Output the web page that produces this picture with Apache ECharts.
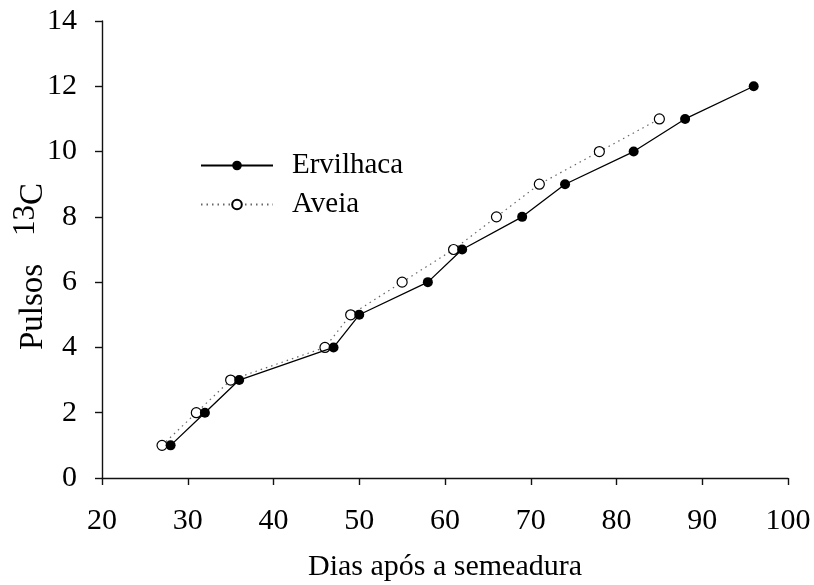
<!DOCTYPE html>
<html>
<head>
<meta charset="utf-8">
<script src="https://cdn.jsdelivr.net/npm/echarts@6/dist/echarts.min.js"></script>
<style>
  html, body { margin: 0; padding: 0; background: #fff; }
  #chart { width: 814px; height: 585px; }
</style>
</head>
<body>
<div id="chart"></div>
<script>
// Days after sowing at which each 13C pulse was applied
const ervilhacaDays = [28, 32, 36, 47, 50, 58, 62, 69, 74, 82, 88, 96];
const ervilhacaPulses = [1, 2, 3, 4, 5, 6, 7, 8, 9, 10, 11, 12];
const aveiaDays = [27, 31, 35, 46, 49, 55, 61, 66, 71, 78, 85];
const aveiaPulses = [1, 2, 3, 4, 5, 6, 7, 8, 9, 10, 11];

const xTicks = { min: 20, max: 100, interval: 10 };
const yTicks = { min: 0, max: 14, interval: 2 };

const FONT = '"Liberation Serif", "Times New Roman", serif';

function pairs(xs, ys) {
  return xs.map((x, i) => [x, ys[i]]);
}

const chart = echarts.init(document.getElementById('chart'), null, { renderer: 'canvas' });

const axisCommon = {
  axisLine: { show: true, lineStyle: { color: '#111', width: 1.4 } },
  axisTick: { show: true, inside: false, length: 7, lineStyle: { color: '#111', width: 1.4 } },
  splitLine: { show: false },
  axisLabel: { color: '#000', fontFamily: FONT, fontSize: 30 }
};

chart.setOption({
  animation: false,
  backgroundColor: '#fff',
  textStyle: { fontFamily: FONT, color: '#000' },
  grid: {
    left: 102, right: 26, top: 21, bottom: 107,
    containLabel: false,
    outerBoundsMode: 'none'
  },
  legend: {
    data: ['Ervilhaca', 'Aveia'],
    orient: 'vertical',
    left: 200,
    top: 151,
    padding: 0,
    itemWidth: 72,
    itemHeight: 12,
    itemGap: 10,
    textStyle: { fontFamily: FONT, fontSize: 29, color: '#000', padding: [0, 0, 0, 14] }
  },
  xAxis: Object.assign({}, axisCommon, {
    type: 'value',
    min: xTicks.min, max: xTicks.max, interval: xTicks.interval,
    axisLabel: Object.assign({}, axisCommon.axisLabel, { margin: 28 }),
    name: 'Dias após a semeadura',
    nameLocation: 'middle',
    nameGap: 74,
    nameMoveOverlap: false,
    nameTextStyle: { fontFamily: FONT, fontSize: 30, color: '#000' }
  }),
  yAxis: Object.assign({}, axisCommon, {
    type: 'value',
    min: yTicks.min, max: yTicks.max, interval: yTicks.interval,
    axisLabel: Object.assign({}, axisCommon.axisLabel, { margin: 25 }),
    name: '{a|Pulsos}{gap|}{s|13}{a|C}',
    nameLocation: 'middle',
    nameRotate: 90,
    nameGap: 52,
    nameMoveOverlap: false,
    nameTextStyle: {
      padding: [0, 34, 0, 0],
      rich: {
        a: { fontFamily: FONT, fontSize: 33, color: '#000', lineHeight: 40, verticalAlign: 'bottom' },
        gap: { width: 28, lineHeight: 40 },
        s: { fontFamily: FONT, fontSize: 31, color: '#000', lineHeight: 40, verticalAlign: 'top' }
      }
    }
  }),
  series: [
    {
      name: 'Aveia',
      type: 'line',
      data: pairs(aveiaDays, aveiaPulses),
      symbol: 'circle',
      symbolSize: 10,
      lineStyle: { color: '#666', width: 1.2, type: [1.5, 4] },
      itemStyle: { color: '#fff', borderColor: '#000', borderWidth: 1.2 },
      z: 2
    },
    {
      name: 'Ervilhaca',
      type: 'line',
      data: pairs(ervilhacaDays, ervilhacaPulses),
      symbol: 'circle',
      symbolSize: 10,
      lineStyle: { color: '#000', width: 1.3 },
      itemStyle: { color: '#000', borderColor: '#000', borderWidth: 0 },
      z: 3
    }
  ]
});
</script>
</body>
</html>
